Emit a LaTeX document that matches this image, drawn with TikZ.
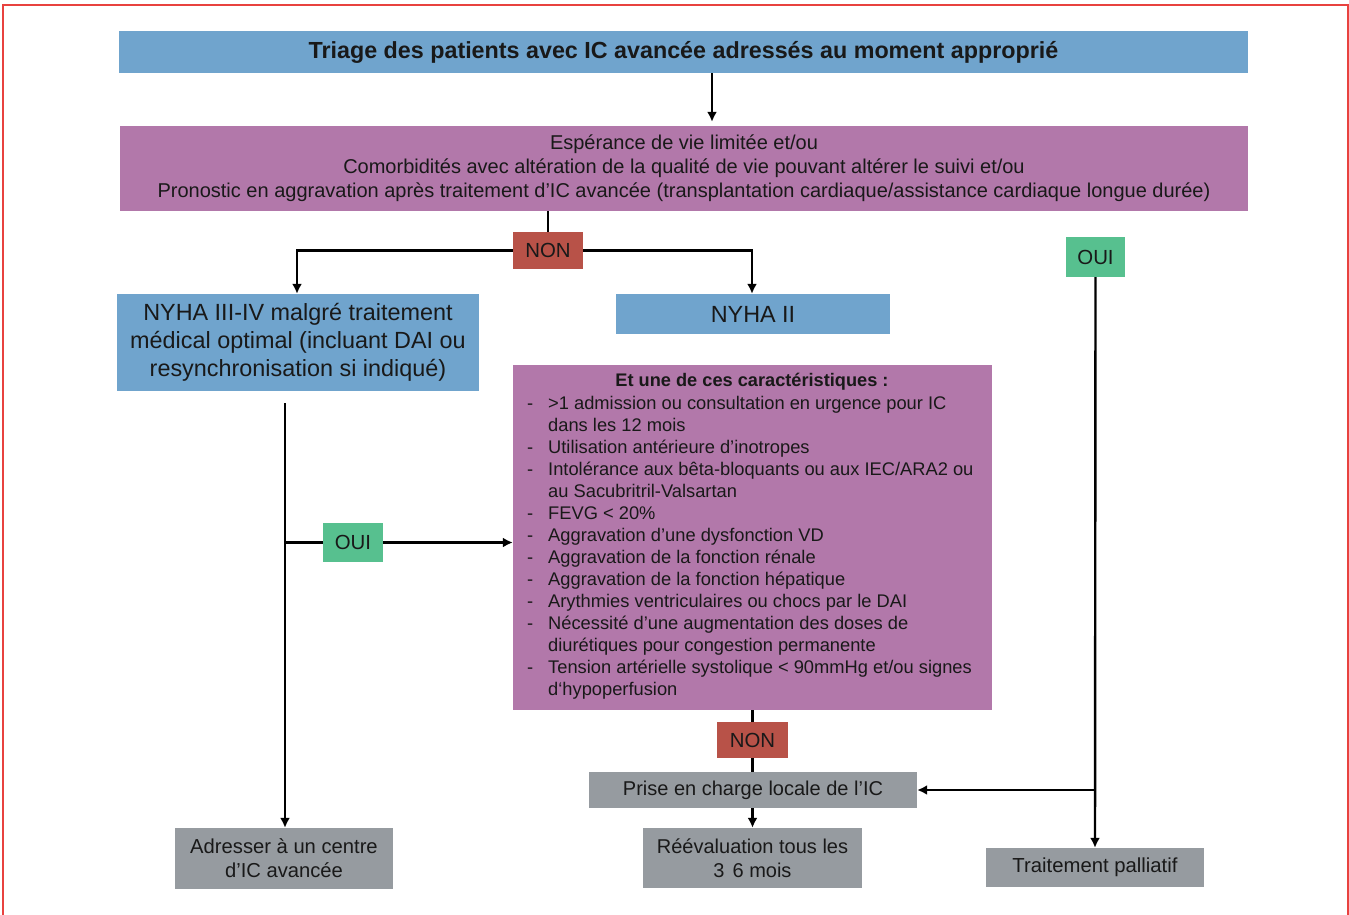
\documentclass[tikz,border=0pt]{standalone}
\usepackage{fontspec}
\setmainfont{Liberation Sans}
\usetikzlibrary{arrows.meta,calc}
\definecolor{cblue}{RGB}{112,164,205}
\definecolor{cpurple}{RGB}{178,120,170}
\definecolor{cred}{RGB}{184,82,72}
\definecolor{cgreen}{RGB}{87,192,143}
\definecolor{cgray}{RGB}{150,155,160}
\definecolor{cframe}{RGB}{232,66,63}
\definecolor{ctext}{RGB}{25,25,25}
\newcommand{\lit}[1]{\makebox[21pt][l]{-}#1}
\newcommand{\cont}[1]{\makebox[21pt][l]{}#1}
\begin{document}
\begin{tikzpicture}[x=1pt,y=-1pt,
  box/.style={draw=none,inner sep=0pt,align=center,text=ctext},
  arr/.style={line width=2.4pt,-{Latex[length=10pt,width=10pt]}},
  ln/.style={line width=2.4pt}]
\useasboundingbox (0,0) rectangle (1349,914);
\draw[cframe,line width=2pt] (3,4.5) rectangle (1347.5,925);
% boxes
\node[box,fill=cblue,minimum width=1129pt,minimum height=42pt,font=\fontsize{23.3}{27}\selectfont\bfseries] (title) at (683.5,52) {Triage des patients avec IC avancée adressés au moment approprié};
\node[box,fill=cpurple,minimum width=1128pt,minimum height=85pt,font=\fontsize{20}{24}\selectfont] (p1) at (684,168.5) {Espérance de vie limitée et/ou\\Comorbidités avec altération de la qualité de vie pouvant altérer le suivi et/ou\\Pronostic en aggravation après traitement d’IC avancée (transplantation cardiaque/assistance cardiaque longue durée)};
\node[box,fill=cred,minimum width=70pt,minimum height=37pt,font=\fontsize{20.4}{24}\selectfont] (non1) at (548,250.5) {NON};
\node[box,fill=cblue,minimum width=362pt,minimum height=97pt,font=\fontsize{23.4}{28}\selectfont] (nyha34) at (298,342.5) {NYHA III-IV malgré traitement\\médical optimal (incluant DAI ou\\resynchronisation si indiqué)};
\node[box,fill=cblue,minimum width=274pt,minimum height=40pt,font=\fontsize{23.4}{27}\selectfont] (nyha2) at (753,314) {NYHA II};
\node[box,fill=cgreen,minimum width=59pt,minimum height=40pt,font=\fontsize{20.4}{24}\selectfont] (ouir) at (1095.5,257) {OUI};
\node[box,fill=cpurple,minimum width=479pt,minimum height=345pt] (p2) at (752.5,537.5) {};
\node[box,font=\fontsize{18.2}{22}\selectfont\bfseries] (p2title) at (752,381.5) {Et une de ces caractéristiques :};
\node[box,anchor=north west,align=left,font=\fontsize{18.3}{22}\selectfont] (p2list) at (527,396.5) {%
\lit{>1 admission ou consultation en urgence pour IC}\\
\cont{dans les 12 mois}\\
\lit{Utilisation antérieure d’inotropes}\\
\lit{Intolérance aux bêta-bloquants ou aux IEC/ARA2 ou}\\
\cont{au Sacubritril-Valsartan}\\
\lit{FEVG < 20\%}\\
\lit{Aggravation d’une dysfonction VD}\\
\lit{Aggravation de la fonction rénale}\\
\lit{Aggravation de la fonction hépatique}\\
\lit{Arythmies ventriculaires ou chocs par le DAI}\\
\lit{Nécessité d’une augmentation des doses de}\\
\cont{diurétiques pour congestion permanente}\\
\lit{Tension artérielle systolique < 90mmHg et/ou signes}\\
\cont{d‘hypoperfusion}};
\node[box,fill=cgreen,minimum width=60pt,minimum height=39pt,font=\fontsize{20.4}{24}\selectfont] (ouil) at (353,542.5) {OUI};
\node[box,fill=cred,minimum width=71pt,minimum height=36pt,font=\fontsize{20.4}{24}\selectfont] (non2) at (752.5,740) {NON};
\node[box,fill=cgray,minimum width=328pt,minimum height=36pt,font=\fontsize{20}{24}\selectfont] (prise) at (753,790) {Prise en charge locale de l’IC};
\node[box,fill=cgray,minimum width=219pt,minimum height=60pt,font=\fontsize{20}{24}\selectfont] (reev) at (752.5,858) {Réévaluation tous les\\3\hspace{8pt}6 mois};
\node[box,fill=cgray,minimum width=218pt,minimum height=61pt,font=\fontsize{20.2}{24}\selectfont] (adr) at (284,858.5) {Adresser à un centre\\d’IC avancée};
\node[box,fill=cgray,minimum width=218pt,minimum height=39pt,font=\fontsize{20.3}{24}\selectfont] (pal) at (1095,867.5) {Traitement palliatif};
% connectors
\coordinate (a0) at (712,73);
\draw[arr] (a0) -- ($(a0 |- p1.north)+(0,-4)$);
\draw[ln] (p1.south -| non1) -- (non1.north);
\draw[arr] (non1.west) -| (nyha34.north -| 297,0);
\draw[arr] (non1.east) -| ($(nyha2.north)+(-1,0)$);
\draw[arr] (ouir.south) -- (pal.north);
\coordinate (j1) at (1095,790);
\draw[arr] (j1) -- (prise.east);
\coordinate (l1) at (285,403);
\draw[arr] (l1) -- (l1 |- adr.north);
\draw[ln] (l1 |- ouil) -- (ouil.west);
\draw[arr] (ouil.east) -- (p2.west |- ouil);
\draw[ln] (p2.south -| non2) -- (non2.north);
\draw[ln] (non2.south) -- (prise.north -| non2);
\draw[arr] (prise.south -| reev) -- (reev.north);
\end{tikzpicture}
\end{document}
